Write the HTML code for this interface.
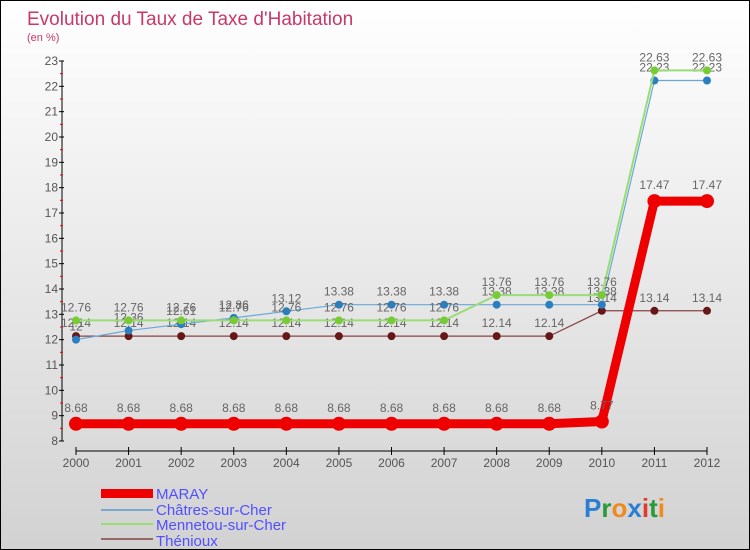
<!DOCTYPE html>
<html><head><meta charset="utf-8"><style>
body{margin:0;}
#c{width:750px;height:550px;position:relative;box-sizing:border-box;border:1px solid #000;background:linear-gradient(#ffffff,#d2d2d2);overflow:hidden;font-family:"Liberation Sans",sans-serif;}
svg{position:absolute;left:0;top:0;}
text{font-family:"Liberation Sans",sans-serif;}
</style></head><body>
<div id="c">
<svg id="s" width="750" height="550">
<text x="26" y="24" font-size="19" fill="#c8386a">Evolution du Taux de Taxe d'Habitation</text>
<text x="26" y="40" font-size="11" fill="#c8386a">(en %)</text>
<g id="axes"></g><g id="series"></g>
<g>
<rect x="100" y="488" width="52" height="9" fill="#e00"/>
<text x="155" y="498" font-size="15" fill="#5050ff">MARAY</text>
<line x1="100" y1="509" x2="152" y2="509" stroke="#7aa8cc" stroke-width="2"/>
<text x="155" y="514" font-size="15" fill="#5050ff">Châtres-sur-Cher</text>
<line x1="100" y1="523" x2="152" y2="523" stroke="#99dd77" stroke-width="2"/>
<text x="155" y="529" font-size="15" fill="#5050ff">Mennetou-sur-Cher</text>
<line x1="100" y1="538" x2="152" y2="538" stroke="#996666" stroke-width="2"/>
<text x="155" y="545" font-size="15" fill="#5050ff">Thénioux</text>
</g>
<g font-size="26" font-weight="bold">
<text x="583" y="516"><tspan fill="#2a7fd4">P</tspan><tspan fill="#2a9a3a">r</tspan><tspan fill="#f08a1c">o</tspan><tspan fill="#2a7fd4">x</tspan><tspan fill="#e03a2a">i</tspan><tspan fill="#2a9a3a">t</tspan><tspan fill="#f08a1c">i</tspan></text>
</g>
</svg>
</div>
<script>
const years=[2000,2001,2002,2003,2004,2005,2006,2007,2008,2009,2010,2011,2012];
const yTicks=[8,9,10,11,12,13,14,15,16,17,18,19,20,21,22,23];
const maray=[8.68,8.68,8.68,8.68,8.68,8.68,8.68,8.68,8.68,8.68,8.77,17.47,17.47];
const chatres=[12,12.36,12.61,12.86,13.12,13.38,13.38,13.38,13.38,13.38,13.38,22.23,22.23];
const mennetou=[12.76,12.76,12.76,12.76,12.76,12.76,12.76,12.76,13.76,13.76,13.76,22.63,22.63];
const thenioux=[12.14,12.14,12.14,12.14,12.14,12.14,12.14,12.14,12.14,12.14,13.14,13.14,13.14];
const NS='http://www.w3.org/2000/svg';
const xS=i=>75+i*(706-75)/12;
const yS=v=>440-(v-8)*(380/15);
function mk(tag,attrs,parent){const e=document.createElementNS(NS,tag);for(const k in attrs)e.setAttribute(k,attrs[k]);parent.appendChild(e);return e;}
const ax=document.getElementById('axes'),sg=document.getElementById('series');
let yl=mk('line',{x1:61,y1:yS(23),x2:61,y2:yS(8),stroke:'#000','stroke-width':1},ax);


yTicks.forEach(v=>{
 mk('line',{x1:58,y1:yS(v),x2:63,y2:yS(v),stroke:'#000'},ax);
 if(v<23)mk('line',{x1:59,y1:yS(v+0.5),x2:62,y2:yS(v+0.5),stroke:'#e00'},ax);
 const t=mk('text',{x:57,y:yS(v)+4,'font-size':12,fill:'#555','text-anchor':'end'},ax);t.textContent=v;
 
 
});
let xl=mk('line',{x1:xS(0),y1:450,x2:xS(12),y2:450,stroke:'#000'},ax);


years.forEach((y,i)=>{
 mk('line',{x1:xS(i),y1:446,x2:xS(i),y2:454,stroke:'#000'},ax);
 const t=mk('text',{x:xS(i),y:466,'font-size':12,fill:'#555','text-anchor':'middle'},ax);t.textContent=y;
 
 
});
function series(vals,name,color,dot,w,r){
 const g=mk('g',{},sg);
 
 
 mk('polyline',{points:vals.map((v,i)=>xS(i)+','+yS(v)).join(' '),fill:'none',stroke:color,'stroke-width':w},g);
 vals.forEach((v,i)=>{
  const c=mk('circle',{cx:xS(i),cy:yS(v),r:r,fill:dot},g);
  
  
  const t=mk('text',{x:xS(i),y:yS(v)-(r+5),'font-size':12,fill:'#666','text-anchor':'middle'},g);t.textContent=v;
 });
}
series(thenioux,'thenioux','#884444','#661818',1.2,4);
series(chatres,'chatres','#6aa8d8','#2a7fc0',1.2,4);
series(mennetou,'mennetou','#99dd77','#77cc33',2,4);
series(maray,'maray','#ee0000','#ee0000',9,7);
</script>
</body></html>
